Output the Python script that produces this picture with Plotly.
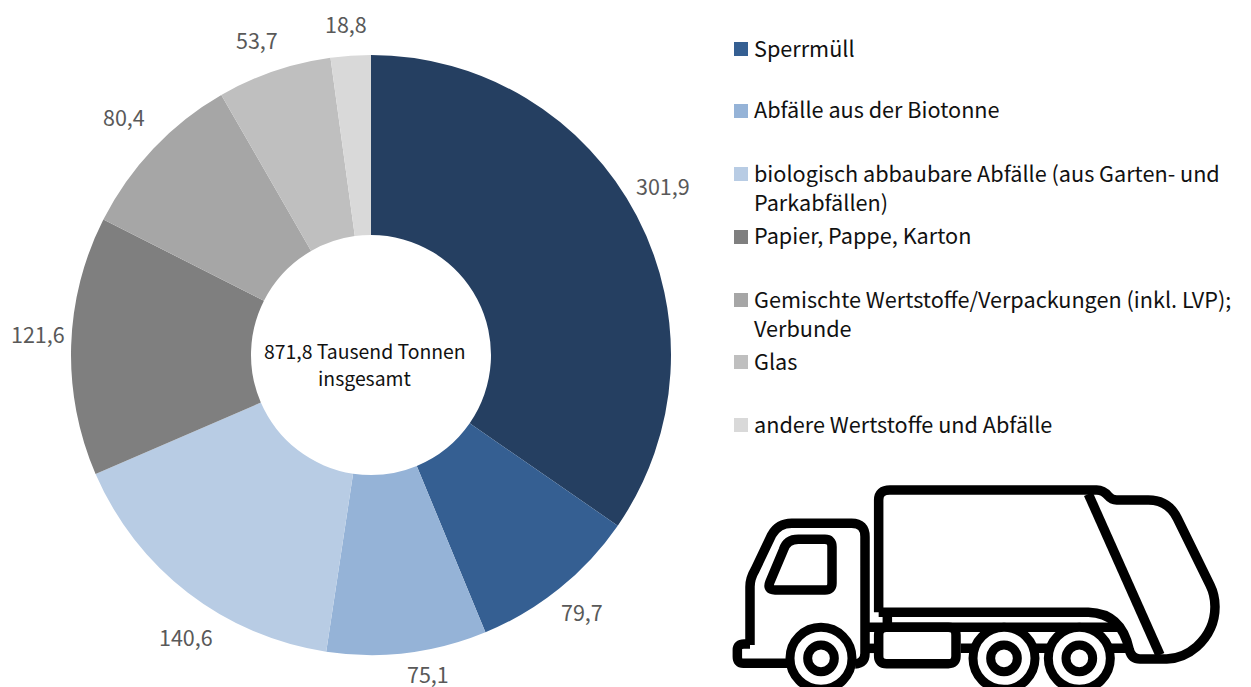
import plotly.graph_objects as go

W, H = 1251, 687
FONT = "Noto Sans CJK SC"

# Data
categories = ["Restabfall", "Sperrmüll", "Abfälle aus der Biotonne",
              "biologisch abbaubare Abfälle (aus Garten- und Parkabfällen)",
              "Papier, Pappe, Karton",
              "Gemischte Wertstoffe/Verpackungen (inkl. LVP); Verbunde",
              "Glas", "andere Wertstoffe und Abfälle"]
values = [301.9, 79.7, 75.1, 140.6, 121.6, 80.4, 53.7, 18.8]
colors = ["#253F61", "#355F92", "#95B3D7", "#B8CCE4", "#7F7F7F", "#A6A6A6", "#BFBFBF", "#D9D9D9"]
legend_texts = ["Sperrmüll", "Abfälle aus der Biotonne",
                "biologisch abbaubare Abfälle (aus Garten- und<br>Parkabfällen)",
                "Papier, Pappe, Karton",
                "Gemischte Wertstoffe/Verpackungen (inkl. LVP);<br>Verbunde",
                "Glas", "andere Wertstoffe und Abfälle"]
legend_colors = colors[1:]
center_lines = ["871,8 Tausend Tonnen", "insgesamt"]

# Layout positions, in picture pixels
legend_rows = [49, 111, 174, 237, 300, 362, 425]
label_pos = [(663, 186), (582, 611), (428, 673), (186, 636),
             (38, 333), (124, 116), (257, 39), (346, 23)]
center_rows = [350, 377]
TEXT_LIFT = 2


def px(x):
    return x / W


def py(y):
    return 1 - y / H


fig = go.Figure(go.Pie(
    labels=categories, values=values, sort=False, direction="clockwise", rotation=0,
    hole=0.4, marker=dict(colors=colors, line=dict(width=0)),
    textinfo="none",
    domain=dict(x=[px(71), px(671)], y=[py(655), py(55)]),
    showlegend=False, automargin=False,
))

annotations = []
for v, (lx, ly) in zip(values, label_pos):
    annotations.append(dict(x=px(lx), y=py(ly), xref="paper", yref="paper",
                            text=f"{v:.1f}".replace(".", ","), showarrow=False,
                            xanchor="center", yanchor="middle",
                            font=dict(family=FONT, size=21.5, color="#595959")))
for row, line in zip(center_rows, center_lines):
    annotations.append(dict(x=px(365), y=py(row), xref="paper", yref="paper", text=line,
                            showarrow=False, xanchor="center", yanchor="middle",
                            font=dict(family=FONT, size=19.4, color="#111111")))
shapes = []
for row, text, col in zip(legend_rows, legend_texts, legend_colors):
    shapes.append(dict(type="rect", xref="paper", yref="paper", x0=px(734), x1=px(748),
                       y0=py(row - 7), y1=py(row + 7), fillcolor=col, line=dict(width=0)))
    for i, line in enumerate(text.split("<br>")):
        annotations.append(dict(x=px(751.5), y=py(row - TEXT_LIFT + 30 * i), xref="paper", yref="paper",
                                text=line, showarrow=False, align="left", xanchor="left", yanchor="middle",
                                font=dict(family=FONT, size=21.65, color="#111111")))


# Truck icon; coordinates are in a 3x crop at (720, 470)
def tx(x):
    return px(720 + x / 3)


def ty(y):
    return py(470 + y / 3)


def path(tokens):
    out = []
    for t in tokens:
        cmd = t[0]
        pts = t[1:]
        coords = " ".join(f"{tx(pts[i]):.5f},{ty(pts[i + 1]):.5f}" for i in range(0, len(pts), 2))
        out.append(f"{cmd} {coords}")
    return " ".join(out)


truck_paths = [
    # body
    [("M", 476, 427), ("L", 476, 90), ("Q", 476, 60, 510, 60), ("L", 1130, 60),
     ("Q", 1150, 60, 1165, 78), ("Q", 1175, 90, 1190, 90), ("L", 1285, 90),
     ("Q", 1345, 90, 1372, 145), ("L", 1470, 345), ("Q", 1485, 375, 1485, 410),
     ("Q", 1485, 480, 1430, 530), ("Q", 1390, 565, 1340, 567), ("L", 1260, 567),
     ("Q", 1235, 567, 1228, 540), ("Q", 1205, 430, 1105, 427), ("L", 476, 427)],
    # diagonal
    [("M", 1105, 72), ("L", 1320, 555)],
    # cab
    [("M", 90, 525), ("L", 90, 350), ("Q", 90, 325, 105, 300), ("L", 155, 195),
     ("Q", 175, 160, 215, 160), ("L", 395, 160), ("Q", 435, 160, 435, 200),
     ("L", 435, 550), ("Q", 435, 580, 405, 582)],
    [("M", 205, 580), ("L", 70, 580), ("Q", 52, 580, 52, 560), ("L", 52, 540),
     ("Q", 52, 522, 72, 522), ("L", 90, 522)],
    # window
    [("M", 235, 208), ("L", 315, 208), ("Q", 336, 208, 336, 230), ("L", 336, 340),
     ("Q", 336, 360, 315, 360), ("L", 165, 360), ("Q", 140, 360, 150, 335),
     ("L", 190, 240), ("Q", 200, 208, 235, 208)],
    # chassis
    [("M", 435, 472), ("L", 1195, 472)],
    [("M", 502, 435), ("L", 502, 472)],
    [("M", 722, 535), ("L", 1235, 535)],
    [("M", 435, 535), ("L", 476, 535)],
    # tank
    [("M", 500, 472), ("L", 685, 472), ("Q", 708, 472, 708, 495), ("L", 708, 558),
     ("Q", 708, 581, 685, 581), ("L", 500, 581), ("Q", 476, 581, 476, 558),
     ("L", 476, 495), ("Q", 476, 472, 500, 472)],
]
for p in truck_paths:
    shapes.append(dict(type="path", xref="paper", yref="paper", path=path(p),
                       line=dict(color="black", width=9.5)))

for cx in (303, 852, 1078):
    for r in (93, 40):
        shapes.append(dict(type="circle", xref="paper", yref="paper",
                           x0=tx(cx - r), x1=tx(cx + r), y0=ty(565 + r), y1=ty(565 - r),
                           fillcolor="white", line=dict(color="black", width=9)))

fig.update_layout(
    width=W, height=H, margin=dict(l=0, r=0, t=0, b=0, pad=0),
    paper_bgcolor="white", plot_bgcolor="white", separators=", ",
    font=dict(family=FONT), annotations=annotations, shapes=shapes,
)
fig.write_html("out.html", config=dict(displayModeBar=False),
               post_script="document.body.style.margin='0';document.body.style.overflow='hidden';")
